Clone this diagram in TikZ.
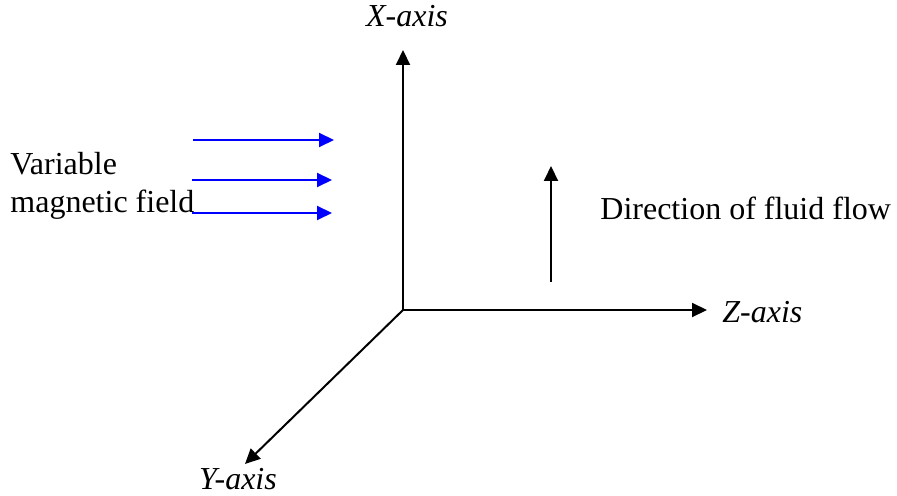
\documentclass[tikz,border=0pt]{standalone}
\usepackage{fontspec}
\setmainfont{Liberation Serif}
\newfontfamily\figfont{Liberation Serif}
\usetikzlibrary{arrows.meta}
\definecolor{FieldBlue}{rgb}{0.0, 0.0, 1.0}

\begin{document}
\begin{tikzpicture}[
  x=0.5pt, y=-0.5pt,
  every node/.style={font=\figfont\fontsize{16}{19}\selectfont, inner sep=0pt},
  axis/.style={black, line width=1pt, -{Triangle[length=7.5pt, width=7pt]}},
  field/.style={FieldBlue, line width=1pt, -{Triangle[length=7.5pt, width=7pt]}},
  axislabel/.style={font=\figfont\fontsize{16}{19}\selectfont\itshape}
]

% Picture frame (pixel units of the reference)
\useasboundingbox (0,0) rectangle (897,496);

% ============================================================
% AXES
% ============================================================
\coordinate (O)  at (403,310);
\coordinate (Xt) at (403,50);
\coordinate (Zt) at (707,310);
\coordinate (Yt) at (245,464);

\draw[axis] (O) -- (Xt);
\draw[axis] (O) -- (Zt);
\draw[axis] (O) -- (Yt);

\node[axislabel, anchor=base] (xlab) at (407,27) {X-axis};
\node[axislabel, anchor=base west] (zlab) at (722,322) {Z-axis};
\node[axislabel, anchor=base] (ylab) at (238,489) {Y-axis};

% ============================================================
% MAGNETIC FIELD
% ============================================================
\coordinate (f1a) at (193,140); \coordinate (f1b) at (334,140);
\coordinate (f2a) at (192,180); \coordinate (f2b) at (332,180);
\coordinate (f3a) at (192,213); \coordinate (f3b) at (332,213);

\draw[field] (f1a) -- (f1b);
\draw[field] (f2a) -- (f2b);
\draw[field] (f3a) -- (f3b);

% two-line label, base = last line
\node[anchor=base west, align=left] (fieldlab) at (10,213)
  {Variable\\magnetic field};

% ============================================================
% FLUID FLOW
% ============================================================
\coordinate (flowa) at (551,282);
\coordinate (flowb) at (551,166);
\draw[axis] (flowa) -- (flowb);

\node[anchor=base west] (flowlab) at (600,220) {Direction of fluid flow};

\end{tikzpicture}
\end{document}
